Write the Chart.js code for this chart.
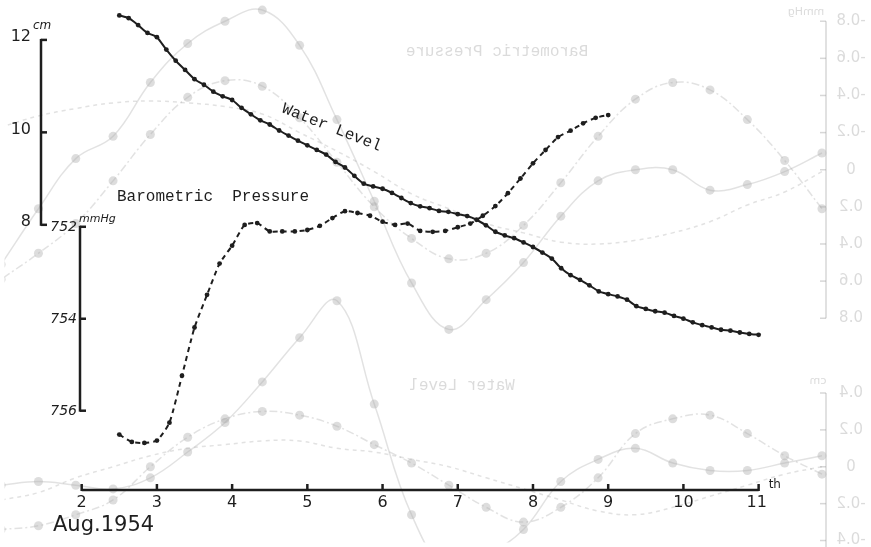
<!DOCTYPE html>
<html lang="en">
<head>
<meta charset="utf-8">
<title>Water Level and Barometric Pressure, Aug. 1954</title>
<script src="https://cdn.jsdelivr.net/npm/chart.js@4.4.1/dist/chart.umd.min.js"></script>
<style>
  html, body { margin: 0; padding: 0; background: #fff; }
  canvas { display: block; }
</style>
</head>
<body>
<canvas id="chart" width="871" height="547"></canvas>
<script>
/* Water level vs barometric pressure, Aug. 1954 (hand-drawn plot on a scanned sheet) */

// ── Data ─────────────────────────────────────────────────
// Water level (cm), read every 3 h from noon on the 2nd
const WL_START = 2.5;
const WL_STEP  = 1 / 8;
const waterLevel = [
  12.53, 12.47, 12.32, 12.15, 12.06, 11.79, 11.55, 11.35, 11.15, 11.03,
  10.88, 10.78, 10.70, 10.53, 10.39, 10.26, 10.17, 10.04, 9.93, 9.82,
  9.72, 9.62, 9.52, 9.36, 9.24, 9.06, 8.89, 8.83, 8.78, 8.69,
  8.58, 8.47, 8.40, 8.36, 8.30, 8.28, 8.23, 8.19, 8.11, 7.99,
  7.85, 7.77, 7.71, 7.62, 7.52, 7.40, 7.27, 7.06, 6.91, 6.81,
  6.69, 6.56, 6.50, 6.45, 6.38, 6.24, 6.18, 6.13, 6.10, 6.03,
  5.97, 5.89, 5.83, 5.78, 5.73, 5.71, 5.67, 5.64, 5.62,
];

// Barometric pressure (mmHg), read every 4 h from noon on the 2nd
const BP_START = 2.5;
const BP_STEP  = 1 / 6;
const pressure = [
  756.52, 756.68, 756.70, 756.65, 756.26, 755.24, 754.19, 753.48, 752.80, 752.41,
  751.96, 751.92, 752.10, 752.10, 752.10, 752.07, 751.98, 751.81, 751.66, 751.70,
  751.76, 751.89, 751.96, 751.93, 752.09, 752.11, 752.09, 752.01, 751.93, 751.76,
  751.55, 751.27, 750.95, 750.62, 750.33, 750.05, 749.91, 749.75, 749.63, 749.57,
];

const dayTicks      = [2, 3, 4, 5, 6, 7, 8, 9, 10, 11];
const waterTicks    = [12, 10, 8];
const pressureTicks = [752, 754, 756];

// Faint show-through of the mirrored plot on the back of the sheet,
// half-day steps counted from its own axis (at the right edge)
const BACK_STEP = 0.5;
const backPressSolid   = [-0.09, 0.01, 0.08, 0.11, 0, 0, 0.06, 0.25, 0.50, 0.70, 0.86, 0.61, 0.17, -0.27, -0.67, -0.86, -0.80, -0.68, -0.47, -0.18, -0.06, 0.21, 0.51];
const backPressDashDot = [0.21, -0.05, -0.27, -0.43, -0.47, -0.38, -0.18, 0.07, 0.30, 0.45, 0.48, 0.37, 0.20, -0.04, -0.28, -0.45, -0.48, -0.39, -0.19, 0.06, 0.29, 0.45, 0.59];
const backPressDashed  = [0.01, 0.12, 0.19, 0.28, 0.34, 0.38, 0.40, 0.39, 0.34, 0.29, 0.21, 0.13, 0.01, -0.10, -0.20, -0.30, -0.34, -0.36, -0.37, -0.36, -0.33, -0.29, -0.23];
const backWaterSolid   = [0.06, 0.02, -0.02, -0.02, 0.02, 0.10, 0.04, -0.08, -0.34, -0.48, -0.56, -0.26, 0.34, 0.90, 0.70, 0.46, 0.24, 0.08, -0.06, -0.12, -0.10, -0.08, -0.10];
const backWaterDashDot = [-0.04, 0.06, 0.18, 0.28, 0.26, 0.18, -0.06, -0.22, -0.30, -0.22, -0.10, 0.02, 0.12, 0.22, 0.28, 0.30, 0.26, 0.16, 0, -0.18, -0.26, -0.32, -0.34];
const backWaterDashed  = [0, -0.04, -0.10, -0.16, -0.22, -0.26, -0.24, -0.18, -0.12, -0.06, 0, 0.04, 0.08, 0.10, 0.14, 0.14, 0.12, 0.10, 0.06, 0, -0.06, -0.14, -0.18];
const backPressTicks = [-0.8, -0.6, -0.4, -0.2, 0, 0.2, 0.4, 0.6, 0.8];
const backWaterTicks = [0.4, 0.2, 0, -0.2, -0.4];

// ── Styling ──────────────────────────────────────────────
const W = 871, H = 547;
const INK       = '#1e1e1e';
const GHOST     = 'rgba(150,150,150,0.28)';
const GHOST_DOT = 'rgba(175,175,175,0.42)';
const HAND  = '"DejaVu Sans", sans-serif';
const TYPER = '"Liberation Mono", monospace';

// scale range so that value v0 sits at pixel p0 (from left/top), ppu pixels per unit
function rangeFrom(v0, p0, ppu, size) {
  const min = v0 - p0 / ppu;
  return { min, max: min + size / ppu };
}
// same, for an upward-growing y axis
function rangeUp(v0, p0, ppu, size) {
  const max = v0 + p0 / ppu;
  return { min: max - size / ppu, max };
}

const series = (start, step, vals) => vals.map((v, i) => ({ x: start + i * step, y: v }));

function line(ctx, x1, y1, x2, y2) {
  ctx.beginPath(); ctx.moveTo(x1, y1); ctx.lineTo(x2, y2); ctx.stroke();
}
function mirrorText(ctx, text, cx, cy) {
  ctx.save(); ctx.translate(cx, cy); ctx.scale(-1, 1); ctx.fillText(text, 0, 0); ctx.restore();
}
const fmtBack = v => (v === 0 ? '0' : v.toFixed(1));

function ghost(vals, yAxisID, dash, dots) {
  return {
    data: series(0, BACK_STEP, vals),
    xAxisID: 'xBack',
    yAxisID,
    borderColor: GHOST,
    borderWidth: 1.5,
    borderDash: dash,
    pointRadius: dots ? 4.5 : 0,
    pointBackgroundColor: GHOST_DOT,
    pointBorderWidth: 0,
    tension: 0.4,
    order: 10,
  };
}

// ── Back of the sheet: mirrored axes and captions ───────
const backSheet = {
  id: 'backSheet',
  beforeDatasetsDraw(chart) {
    const { ctx, scales: { yBackP, yBackW } } = chart;
    const ax = 826;
    ctx.save();
    ctx.strokeStyle = 'rgba(150,150,150,0.38)';
    ctx.fillStyle = 'rgba(135,135,135,0.3)';
    ctx.lineWidth = 1.5;
    ctx.textAlign = 'center';
    ctx.textBaseline = 'middle';

    line(ctx, ax, yBackP.getPixelForValue(-0.8), ax, yBackP.getPixelForValue(0.8));
    ctx.font = `15px ${HAND}`;
    backPressTicks.forEach(v => {
      const y = yBackP.getPixelForValue(v);
      line(ctx, ax - 6, y, ax, y);
      mirrorText(ctx, fmtBack(v), 851, y);
    });
    ctx.font = `11px ${HAND}`;
    mirrorText(ctx, 'mmHg', 806, 12);

    line(ctx, ax, yBackW.getPixelForValue(0.4), ax, H);
    ctx.font = `15px ${HAND}`;
    backWaterTicks.forEach(v => {
      const y = yBackW.getPixelForValue(v);
      line(ctx, ax - 6, y, ax, y);
      mirrorText(ctx, fmtBack(v), 851, y);
    });
    ctx.font = `11px ${HAND}`;
    mirrorText(ctx, 'cm', 818, 381);

    ctx.font = `16px ${TYPER}`;
    mirrorText(ctx, 'Barometric Pressure', 497, 52);
    mirrorText(ctx, 'Water Level', 462, 386);
    ctx.restore();
  },
};

// ── Front: hand-drawn axes, labels and captions ─────────
const handAxes = {
  id: 'handAxes',
  afterDatasetsDraw(chart) {
    const { ctx, scales: { x, yW, yP } } = chart;
    ctx.save();
    ctx.strokeStyle = INK;
    ctx.fillStyle = INK;
    ctx.lineWidth = 2.5;

    // water-level axis
    const wx = 41;
    line(ctx, wx, yW.getPixelForValue(12) - 1, wx, yW.getPixelForValue(8) + 1);
    waterTicks.forEach(v => {
      const y = yW.getPixelForValue(v);
      line(ctx, wx, y, wx + 6, y);
    });
    ctx.font = `16px ${HAND}`;
    ctx.textAlign = 'right';
    ctx.textBaseline = 'middle';
    waterTicks.forEach(v => ctx.fillText(String(v), 31, yW.getPixelForValue(v) - 3));
    ctx.font = `italic 12px ${HAND}`;
    ctx.textAlign = 'left';
    ctx.fillText('cm', 33, yW.getPixelForValue(12) - 14);

    // pressure axis
    const px = 80;
    line(ctx, px, yP.getPixelForValue(752) - 1, px, yP.getPixelForValue(756) + 1);
    pressureTicks.forEach(v => {
      const y = yP.getPixelForValue(v);
      line(ctx, px, y, px + 6, y);
    });
    ctx.font = `italic 14px ${HAND}`;
    ctx.textAlign = 'right';
    pressureTicks.forEach(v => ctx.fillText(String(v), 77, yP.getPixelForValue(v) + 1));
    ctx.font = `italic 11px ${HAND}`;
    ctx.textAlign = 'left';
    ctx.fillText('mmHg', 79, yP.getPixelForValue(752) - 8);

    // day axis
    const ay = 490;
    line(ctx, x.getPixelForValue(2), ay, x.getPixelForValue(11), ay);
    dayTicks.forEach(d => {
      const tx = x.getPixelForValue(d);
      line(ctx, tx, ay + 1, tx, ay - 6);
    });
    ctx.font = `16px ${HAND}`;
    ctx.textAlign = 'center';
    dayTicks.forEach(d => ctx.fillText(String(d), x.getPixelForValue(d) - (d === 11 ? 2 : 0), ay + 13));
    ctx.font = `12px ${HAND}`;
    ctx.textAlign = 'left';
    ctx.fillText('th', x.getPixelForValue(11) + 10, ay - 5);
    ctx.font = `21px ${HAND}`;
    ctx.fillText('Aug.1954', 53, 526);

    // captions
    ctx.font = `16px ${TYPER}`;
    ctx.fillText('Barometric  Pressure', 117, 197);
    ctx.save();
    ctx.translate(281, 112);
    ctx.rotate(0.38);
    ctx.textBaseline = 'alphabetic';
    ctx.fillText('Water Level', 0, 0);
    ctx.restore();

    ctx.restore();
  },
};

// ── Chart ────────────────────────────────────────────────
const xRange     = rangeFrom(2, 78, 76, W);
const waterRange = rangeUp(12, 36, 47, H);
const pressRange = rangeFrom(752, 226, 46.75, H);     // drawn reversed: 752 on top
const backX      = rangeFrom(0, W - 826, 75.4, W);    // drawn reversed: runs right to left
const backPRange = rangeFrom(0, 168, 188.75, H);      // reversed
const backWRange = rangeUp(0, 470, 187.5, H);

const hidden = { display: false, bounds: 'data' };

new Chart(document.getElementById('chart').getContext('2d'), {
  type: 'line',
  data: {
    datasets: [
      {
        label: 'Water Level',
        data: series(WL_START, WL_STEP, waterLevel),
        xAxisID: 'x',
        yAxisID: 'yW',
        borderColor: INK,
        borderWidth: 2,
        pointRadius: 2.4,
        pointBackgroundColor: INK,
        pointBorderWidth: 0,
        tension: 0.2,
        order: 0,
      },
      {
        label: 'Barometric Pressure',
        data: series(BP_START, BP_STEP, pressure),
        xAxisID: 'x',
        yAxisID: 'yP',
        borderColor: INK,
        borderWidth: 2,
        borderDash: [5, 4],
        pointRadius: 2.4,
        pointBackgroundColor: INK,
        pointBorderWidth: 0,
        tension: 0.2,
        order: 1,
      },
      ghost(backPressSolid,   'yBackP', [],           true),
      ghost(backPressDashDot, 'yBackP', [8, 3, 2, 3], true),
      ghost(backPressDashed,  'yBackP', [4, 4],       false),
      ghost(backWaterSolid,   'yBackW', [],           true),
      ghost(backWaterDashDot, 'yBackW', [8, 3, 2, 3], true),
      ghost(backWaterDashed,  'yBackW', [4, 4],       false),
    ],
  },
  options: {
    responsive: false,
    animation: false,
    layout: { padding: 0 },
    plugins: {
      legend: { display: false },
      tooltip: { enabled: false },
    },
    scales: {
      x:      { ...hidden, type: 'linear', axis: 'x', ...xRange },
      yW:     { ...hidden, type: 'linear', axis: 'y', ...waterRange },
      yP:     { ...hidden, type: 'linear', axis: 'y', reverse: true, ...pressRange },
      xBack:  { ...hidden, type: 'linear', axis: 'x', reverse: true, ...backX },
      yBackP: { ...hidden, type: 'linear', axis: 'y', reverse: true, ...backPRange },
      yBackW: { ...hidden, type: 'linear', axis: 'y', ...backWRange },
    },
  },
  plugins: [backSheet, handAxes],
});
</script>
</body>
</html>
